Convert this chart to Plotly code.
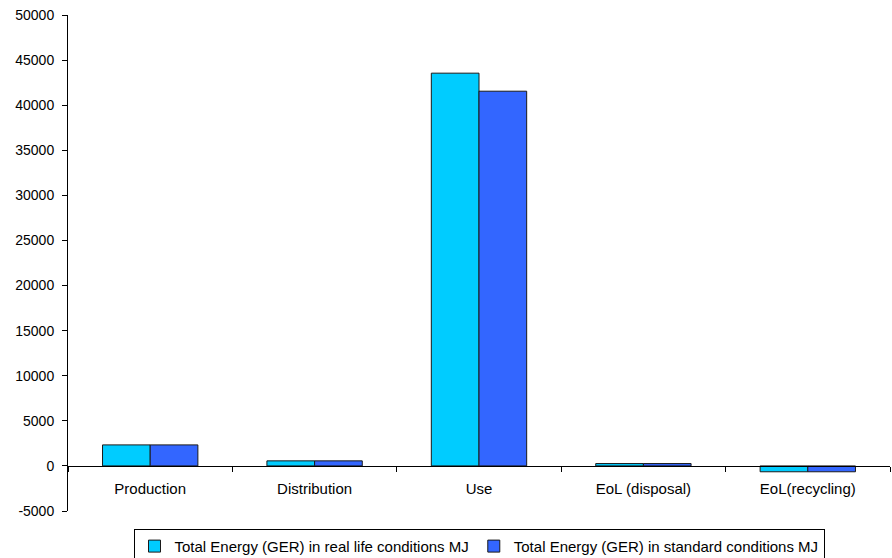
import plotly.graph_objects as go

categories = ["Production", "Distribution", "Use", "EoL (disposal)", "EoL(recycling)"]
real_life = [2330, 560, 43550, 260, -650]
standard = [2330, 560, 41550, 260, -650]
series_names = ["Total Energy (GER) in real life conditions MJ",
                "Total Energy (GER) in standard conditions MJ"]
y_ticks = list(range(-5000, 50001, 5000))
y_tick_text = [str(v) for v in y_ticks]

fig = go.Figure()
fig.add_trace(go.Bar(x=categories, y=real_life, name=series_names[0],
                     marker=dict(color="#00CCFF", line=dict(color="#1a1a1a", width=1))))
fig.add_trace(go.Bar(x=categories, y=standard, name=series_names[1],
                     marker=dict(color="#3366FF", line=dict(color="#1a1a1a", width=1))))

ymin, ymax = -5000, 50000
fig.update_layout(
    width=892, height=558,
    margin=dict(l=68, r=2, t=15, b=47, autoexpand=False),
    paper_bgcolor="white", plot_bgcolor="white",
    font=dict(family="Liberation Sans, Arial, sans-serif", size=14, color="black"),
    barmode="group", bargap=0.42, bargroupgap=0,
    showlegend=True,
    legend=dict(orientation="h", x=0.5, xanchor="center", y=-0.036, yanchor="top",
                bordercolor="black", borderwidth=1, font=dict(size=15),
                itemwidth=30, tracegroupgap=0),
    xaxis=dict(type="category", anchor="free", position=(0 - ymin) / (ymax - ymin),
               showline=True, linecolor="black", linewidth=1, automargin=False,
               tickson="boundaries", ticks="outside", ticklen=5, tickcolor="black",
               showgrid=False, zeroline=False, ticklabelstandoff=9,
               tickfont=dict(size=15)),
    yaxis=dict(range=[ymin, ymax], tickvals=y_ticks, ticktext=y_tick_text,
               showline=True, linecolor="black", automargin=False,
               linewidth=1, ticks="outside", ticklen=5, tickcolor="black",
               showgrid=False, zeroline=False, ticklabelstandoff=5,
               tickfont=dict(size=14)),
)

fig.write_html("out.html", config={"displayModeBar": False},
               post_script="document.body.style.margin='0';document.body.style.overflow='hidden';")
